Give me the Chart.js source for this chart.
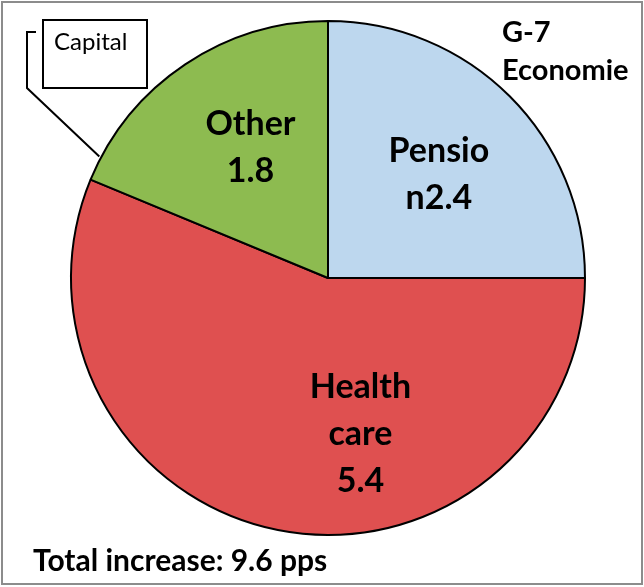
<!DOCTYPE html>
<html>
<head>
<meta charset="utf-8">
<script src="https://cdn.jsdelivr.net/npm/chart.js@4.4.1/dist/chart.umd.min.js"></script>
<style>
  body { margin: 0; background: #fff; }
  canvas { display: block; }
</style>
</head>
<body>
<canvas id="pie" width="644" height="587"></canvas>
<script>
'use strict';

// data
var categories = ['Pension', 'Health care', 'Other', 'Capital'];
var values = [2.4, 5.4, 1.8, 0];
var sliceLabels = [['Pensio', 'n2.4'], ['Health', 'care', '5.4'], ['Other', '1.8'], []];
var colors = ['#BDD7EE', '#DF5050', '#8DBB50', '#FFFFFF'];
var titleLines = ['G-7', 'Economie'];
var footnote = 'Total increase: 9.6 pps';
var calloutText = 'Capital';

// small nudges for the label anchors (angle in degrees, radius as a fraction)
var labelShift = [{ da: 2, r: 0.59 }, { da: -23, r: 0.62 }, { da: 3, r: 0.59 }, { da: 0, r: 0 }];

var FONT = 'Lato, "Open Sans", sans-serif';

var framePlugin = {
    id: 'frame',
    beforeDraw: function (chart) {
        var ctx = chart.ctx;
        ctx.save();
        ctx.fillStyle = '#fff';
        ctx.fillRect(0, 0, chart.width, chart.height);
        ctx.strokeStyle = '#8c8c8c';
        ctx.lineWidth = 2;
        ctx.strokeRect(2, 2, chart.width - 4, chart.height - 5);
        ctx.restore();
    }
};

var labelPlugin = {
    id: 'sliceText',
    afterDraw: function (chart) {
        var ctx = chart.ctx;
        var meta = chart.getDatasetMeta(0);
        ctx.save();
        ctx.fillStyle = '#000';
        ctx.textAlign = 'center';
        ctx.textBaseline = 'middle';
        ctx.font = 'bold 34px ' + FONT;
        meta.data.forEach(function (arc, i) {
            var lines = sliceLabels[i];
            if (!lines.length) return;
            var p = arc.getProps(['x', 'y', 'startAngle', 'endAngle', 'outerRadius'], true);
            var mid = (p.startAngle + p.endAngle) / 2 + labelShift[i].da * Math.PI / 180;
            var r = p.outerRadius * labelShift[i].r;
            var cx = p.x + Math.cos(mid) * r;
            var cy = p.y + Math.sin(mid) * r;
            var gap = 47;
            var top = cy - gap * (lines.length - 1) / 2;
            lines.forEach(function (t, k) {
                ctx.fillText(t, cx, top + k * gap);
            });
        });

        // title at top right
        ctx.textAlign = 'left';
        ctx.font = 'bold 29px ' + FONT;
        ctx.fillText(titleLines[0], 502, 33);
        ctx.fillText(titleLines[1], 502, 71);

        // footnote
        ctx.font = 'bold 30px ' + FONT;
        ctx.fillText(footnote, 33, 561);

        // Capital callout with a bracket leader to the rim
        var p0 = meta.data[0].getProps(['x', 'y', 'outerRadius'], true);
        var ang = (298 - 90) * Math.PI / 180;
        var ex = p0.x + Math.cos(ang) * (p0.outerRadius + 2);
        var ey = p0.y + Math.sin(ang) * (p0.outerRadius + 2);
        ctx.strokeStyle = '#000';
        ctx.lineWidth = 2;
        ctx.strokeRect(43, 20, 104, 68);
        ctx.beginPath();
        ctx.moveTo(36, 32);
        ctx.lineTo(27, 32);
        ctx.lineTo(27, 88);
        ctx.lineTo(ex, ey);
        ctx.stroke();
        ctx.font = '24px ' + FONT;
        ctx.fillText(calloutText, 54, 42);
        ctx.restore();
    }
};

var ctx = document.getElementById('pie');
var pie = new Chart(ctx, {
    type: 'pie',
    data: {
        labels: categories,
        datasets: [{
            data: values,
            backgroundColor: colors,
            borderColor: '#000',
            borderWidth: 2
        }]
    },
    options: {
        responsive: false,
        animation: false,
        events: [],
        layout: { padding: { left: 70, right: 58, top: 20, bottom: 51 } },
        plugins: {
            legend: { display: false },
            tooltip: { enabled: false }
        }
    },
    plugins: [framePlugin, labelPlugin]
});
</script>
</body>
</html>
